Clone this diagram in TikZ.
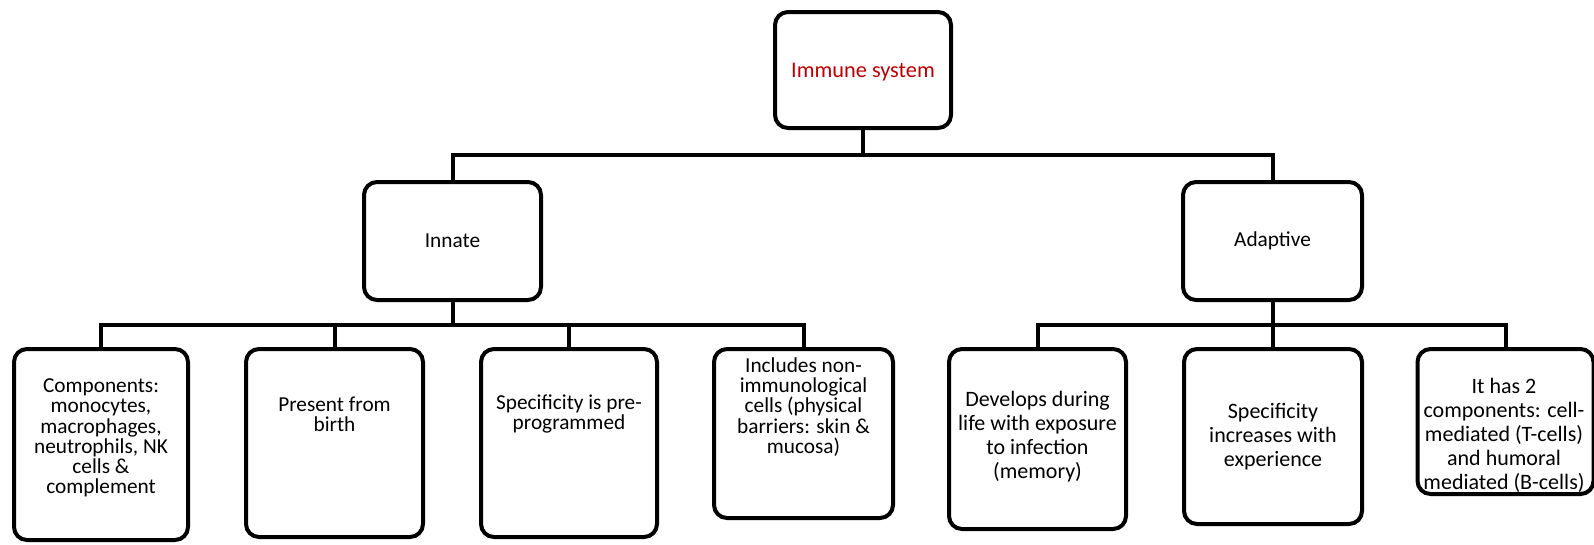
\documentclass[tikz,border=0pt]{standalone}
\usepackage{fontspec}
\setmainfont{Carlito}
\definecolor{titlered}{RGB}{192,0,0}
\tikzset{
  box/.style={draw=black, line width=4pt, rounded corners=13pt, fill=white, inner sep=0pt, outer sep=0pt},
  conn/.style={draw=black, line width=4pt},
  ltxt/.style={align=center, inner sep=0pt, font=\fontsize{21.3}{20.3}\selectfont},
  rtxt/.style={align=center, inner sep=0pt, font=\fontsize{22}{24}\selectfont},
}
\begin{document}
\begin{tikzpicture}[x=1pt, y=-1pt]
\useasboundingbox (0,0) rectangle (1594,544);
% boxes (min size = outer size - line width)
\node[box, minimum width=176pt, minimum height=116pt] (top) at (863,70) {};
\node[box, minimum width=177pt, minimum height=118pt] (innate) at (452.5,241) {};
\node[box, minimum width=179pt, minimum height=118pt] (adaptive) at (1272.5,241) {};
\node[box, minimum width=174pt, minimum height=191pt] (b1) at (101,444.5) {};
\node[box, minimum width=177pt, minimum height=188pt] (b2) at (334.5,443) {};
\node[box, minimum width=176pt, minimum height=188pt] (b3) at (569,443) {};
\node[box, minimum width=179pt, minimum height=169pt] (b4) at (803.5,433.5) {};
\node[box, minimum width=177pt, minimum height=180pt] (b5) at (1037.5,439) {};
\node[box, minimum width=178pt, minimum height=175pt] (b6) at (1273,436.5) {};
\node[box, minimum width=176pt, minimum height=145pt] (b7) at (1505.5,421.5) {};
% texts
\node[ltxt, text=titlered, font=\fontsize{22.3}{21}\selectfont] (ttop) at (863,72) {Immune system};
\node[ltxt] (tinnate) at (452.5,241) {Innate};
\node[ltxt] (tadaptive) at (1272.5,241) {Adaptive};
\node[ltxt] (t1) at (101,438) {Components:\\monocytes,\\macrophages,\\neutrophils, NK\\cells \&\\complement};
\node[ltxt] (t2) at (334.5,414) {Present from\\birth};
\node[ltxt] (t3) at (569,414) {Specificity is pre-\\programmed};
\node[ltxt] (t4) at (803.5,407) {Includes non-\\immunological\\cells (physical\\barriers: skin \&\\mucosa)};
\node[rtxt] (t5) at (1037.5,437) {Develops during\\life with exposure\\to infection\\(memory)};
\node[rtxt] (t6) at (1273,437) {Specificity\\increases with\\experience};
\node[rtxt] (t7) at (1504,435) {It has 2\\components: cell-\\mediated (T-cells)\\and humoral\\mediated (B-cells)};
% connectors
\coordinate (j1) at (863,155);
\coordinate (j2) at (452.5,325);
\coordinate (j3) at (1272.5,325);
\draw[conn] (top.south) -- (j1);
\draw[conn] (innate.north) |- (adaptive.north |- j1) -- (adaptive.north);
\draw[conn] (innate.south) -- (j2);
\draw[conn] (b1.north) |- (b4.north |- j2) -- (b4.north);
\draw[conn] (b2.north) -- (b2.north |- j2);
\draw[conn] (b3.north) -- (b3.north |- j2);
\draw[conn] (adaptive.south) -- (j3);
\draw[conn] (b5.north) |- (b7.north |- j3) -- (b7.north);
\draw[conn] (b6.north) -- (b6.north |- j3);
\end{tikzpicture}
\end{document}
